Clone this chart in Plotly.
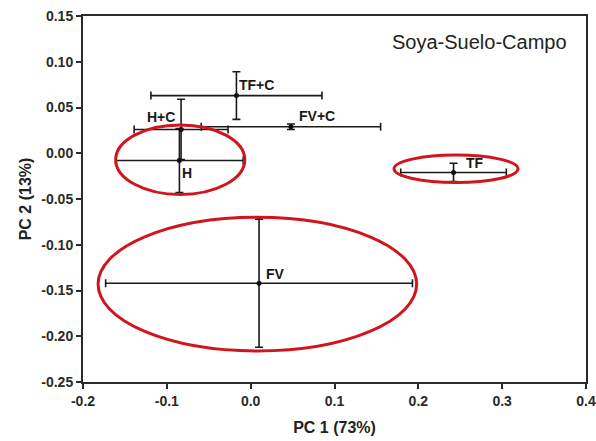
import plotly.graph_objects as go

# ---- data ----
groups = ["TF+C", "H+C", "FV+C", "H", "FV", "TF"]
pc1 = [-0.017, -0.083, 0.048, -0.085, 0.010, 0.242]
pc2 = [0.063, 0.026, 0.029, -0.008, -0.142, -0.021]
pc1_err = [0.102, 0.056, 0.107, 0.076, 0.183, 0.063]
pc2_err = [0.026, 0.033, 0.003, 0.035, 0.070, 0.010]

# ellipses (center x, center y, radius x, radius y)
ell_names = ["H", "TF", "FV"]
ell_cx = [-0.084, 0.245, 0.008]
ell_cy = [-0.007, -0.017, -0.143]
ell_rx = [0.077, 0.074, 0.190]
ell_ry = [0.038, 0.015, 0.073]

x_ticks = [-0.2, -0.1, 0.0, 0.1, 0.2, 0.3, 0.4]
x_tick_labels = ["-0.2", "-0.1", "0.0", "0.1", "0.2", "0.3", "0.4"]
y_ticks = [0.15, 0.10, 0.05, 0.00, -0.05, -0.10, -0.15, -0.20, -0.25]
y_tick_labels = ["0.15", "0.10", "0.05", "0.00", "-0.05", "-0.10", "-0.15", "-0.20", "-0.25"]

# label placement styles (pixel offsets)
lab_anchor = ["left", "right", "left", "left", "left", "left"]
lab_vanchor = ["bottom", "bottom", "bottom", "top", "bottom", "bottom"]
lab_dx = [2, -5, 7, 2, 6, 11]
lab_dy = [2, 3, 2, -3, 0, 0]

AX = "#2b2b2b"
FONT = "Liberation Sans, Arial, sans-serif"

fig = go.Figure()

fig.add_trace(go.Scatter(
    x=pc1, y=pc2, mode="markers",
    marker=dict(color="#111111", size=5),
    error_x=dict(type="data", array=pc1_err, color="#1a1a1a", thickness=1.6, width=4),
    error_y=dict(type="data", array=pc2_err, color="#1a1a1a", thickness=1.6, width=4),
    showlegend=False, hoverinfo="skip",
))

for cx, cy, rx, ry in zip(ell_cx, ell_cy, ell_rx, ell_ry):
    fig.add_shape(type="circle", xref="x", yref="y",
                  x0=cx - rx, x1=cx + rx, y0=cy - ry, y1=cy + ry,
                  line=dict(color="#d4141c", width=3), layer="above")

for g, x, y, a, va, dx, dy in zip(groups, pc1, pc2, lab_anchor, lab_vanchor, lab_dx, lab_dy):
    fig.add_annotation(x=x, y=y, xref="x", yref="y", text=g, showarrow=False,
                       xanchor=a, yanchor=va, xshift=dx, yshift=dy,
                       font=dict(family=FONT, size=14, color="#1a1a1a", weight="bold"),
                       borderpad=0)

fig.add_annotation(x=0.966, y=0.93, xref="paper", yref="paper", text="Soya-Suelo-Campo",
                   showarrow=False, xanchor="right", yanchor="middle",
                   font=dict(family=FONT, size=20, color="#222222"))

axis_common = dict(
    showline=True, linecolor=AX, linewidth=2, mirror=True,
    ticks="outside", ticklen=5, tickwidth=2, tickcolor=AX,
    showgrid=False, zeroline=False, automargin=False,
    tickfont=dict(family=FONT, size=14, color="#2a2a2a", weight="bold"),
)

fig.update_xaxes(range=[-0.2, 0.4], tickvals=x_ticks, ticktext=x_tick_labels,
                 title=dict(text="PC 1 (73%)", standoff=14,
                            font=dict(family=FONT, size=16, color="#222222", weight="bold")),
                 **axis_common)
fig.update_yaxes(range=[-0.25, 0.15], tickvals=y_ticks, ticktext=y_tick_labels,
                 title=dict(text="PC 2 (13%)", standoff=6,
                            font=dict(family=FONT, size=16, color="#222222", weight="bold")),
                 **axis_common)

fig.update_layout(
    width=596, height=441,
    margin=dict(l=83, r=10, t=16, b=59),
    paper_bgcolor="white", plot_bgcolor="white",
)

fig.write_html("out.html", config={"displayModeBar": False},
               post_script="document.body.style.margin='0';document.body.style.overflow='hidden';")
